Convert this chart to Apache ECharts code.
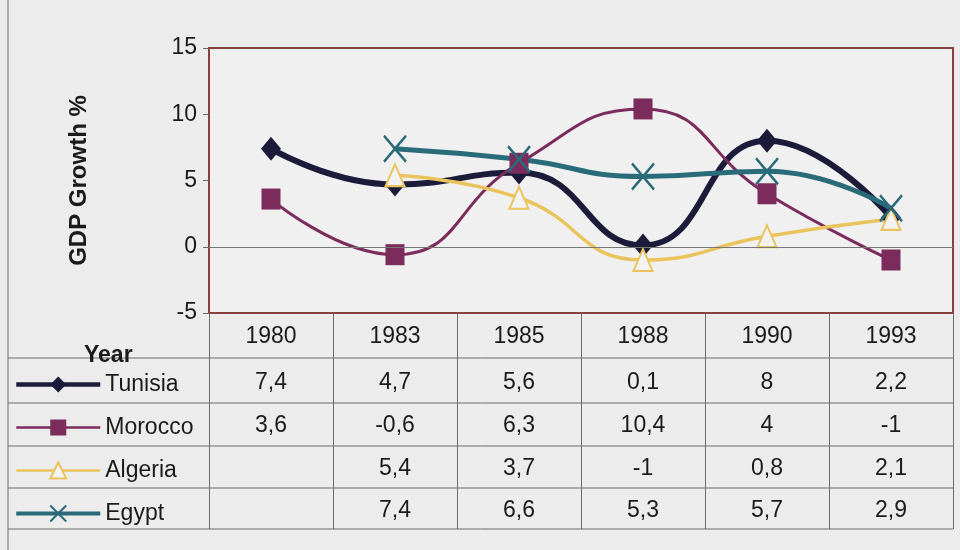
<!DOCTYPE html>
<html><head><meta charset="utf-8">
<script src="https://cdn.jsdelivr.net/npm/echarts@6/dist/echarts.min.js"></script>
<style>html,body{margin:0;padding:0;background:#ececec}#c{width:960px;height:550px}</style>
</head><body><div id="c"></div>
<script>
const years = ['1980','1983','1985','1988','1990','1993'];
const tunisia = [7.4, 4.7, 5.6, 0.1, 8, 2.2];
const morocco = [3.6, -0.6, 6.3, 10.4, 4, -1];
const algeria = [null, 5.4, 3.7, -1, 0.8, 2.1];
const egypt   = [null, 7.4, 6.6, 5.3, 5.7, 2.9];
const seriesNames = ['Tunisia','Morocco','Algeria','Egypt'];
const yTicks = {min: -5, max: 15, interval: 5};

const rows = [tunisia, morocco, algeria, egypt];
const fmt = v => (v === null || v === undefined) ? '' : String(v).replace('.', ',');

const G = {left: 209, right: 7, top: 48, bottom: 237};
const font = 'Arial, "Liberation Sans", sans-serif';
const FS = 23;
const colors = ['#1c1c3a', '#7b2b5c', '#e9c35c', '#2a6b7a'];
const widths = [6, 3, 3.5, 5];
const legendWidths = [4.5, 2.5, 2.5, 4];

const chart = echarts.init(document.getElementById('c'));

const extraAxes = rows.map((r, i) => ({
  type: 'category', data: years, gridIndex: 0, position: 'bottom',
  offset: [46, 89, 132, 174][i],
  axisLine: {show: false, onZero: false}, axisTick: {show: false},
  axisLabel: {margin: 12, fontSize: FS, color: '#1a1a1a', fontFamily: font,
    formatter: (v, idx) => fmt(r[idx])}
}));

const xSym = 'path://M0,0L10,10M10,0L0,10';

chart.setOption({
  backgroundColor: '#ececec',
  animation: false,
  grid: {left: G.left, right: G.right, top: G.top, bottom: G.bottom, show: true,
    backgroundColor: '#f0f0f0', borderColor: '#8a3f3f', borderWidth: 2},
  legend: {
    orient: 'vertical', left: 9, top: 368, itemWidth: 84, itemHeight: 20, itemGap: 20,
    textStyle: {fontSize: FS, lineHeight: 20, color: '#1a1a1a', fontFamily: font},
    data: seriesNames.map((n, i) => ({name: n, lineStyle: {width: legendWidths[i]}})),
    selectedMode: false
  },
  xAxis: [{
    type: 'category', data: years, boundaryGap: true,
    axisLine: {show: false, onZero: false},
    axisTick: {show: true, interval: 0, length: 216, lineStyle: {color: '#6a6a6a', width: 1}},
    axisLabel: {margin: 12, fontSize: FS, color: '#1a1a1a', fontFamily: font}
  }].concat(extraAxes),
  yAxis: {
    type: 'value', min: yTicks.min, max: yTicks.max, interval: yTicks.interval,
    name: 'GDP Growth %', nameLocation: 'middle', nameGap: 118,
    nameTextStyle: {fontSize: 24, fontWeight: 'bold', color: '#1a1a1a', fontFamily: font},
    axisLine: {show: false}, splitLine: {show: false},
    axisTick: {show: true, length: 6, lineStyle: {color: '#666'}},
    axisLabel: {fontSize: FS, color: '#1a1a1a', fontFamily: font, margin: 12}
  },
  series: [
    {name: 'Tunisia', type: 'line', data: tunisia, smooth: 0.5, symbol: 'diamond', symbolSize: [20, 24],
      lineStyle: {color: colors[0], width: widths[0]}, itemStyle: {color: colors[0]},
      markLine: {silent: true, symbol: 'none', label: {show: false},
        lineStyle: {color: '#777', width: 1, type: 'solid'}, data: [{yAxis: 0}]}},
    {name: 'Morocco', type: 'line', data: morocco, smooth: 0.5, symbol: 'rect', symbolSize: [19, 21],
      lineStyle: {color: colors[1], width: widths[1]}, itemStyle: {color: colors[1]}},
    {name: 'Algeria', type: 'line', data: algeria, smooth: 0.5, symbol: 'triangle', symbolSize: [19, 22],
      lineStyle: {color: colors[2], width: widths[2]},
      itemStyle: {color: '#f3f3f3', borderColor: colors[2], borderWidth: 2}},
    {name: 'Egypt', type: 'line', data: egypt, smooth: 0.5, symbol: xSym, symbolSize: [22, 26],
      lineStyle: {color: colors[3], width: widths[3]},
      itemStyle: {color: 'none', borderColor: colors[3], borderWidth: 2.5}}
  ],
  graphic: [
    {type: 'line', shape: {x1: 8, y1: 0, x2: 8, y2: 550}, style: {stroke: '#6a6a6a', lineWidth: 1}},
    ...[358, 403, 446, 488, 529].map(y => ({type: 'line', shape: {x1: 8, y1: y, x2: 960 - G.right, y2: y},
      style: {stroke: '#6a6a6a', lineWidth: 1}})),
    {type: 'text', left: 84, top: 344, style: {text: 'Year', fontSize: FS, fontWeight: 'bold', fill: '#1a1a1a', fontFamily: font}}
  ]
});
</script></body></html>
